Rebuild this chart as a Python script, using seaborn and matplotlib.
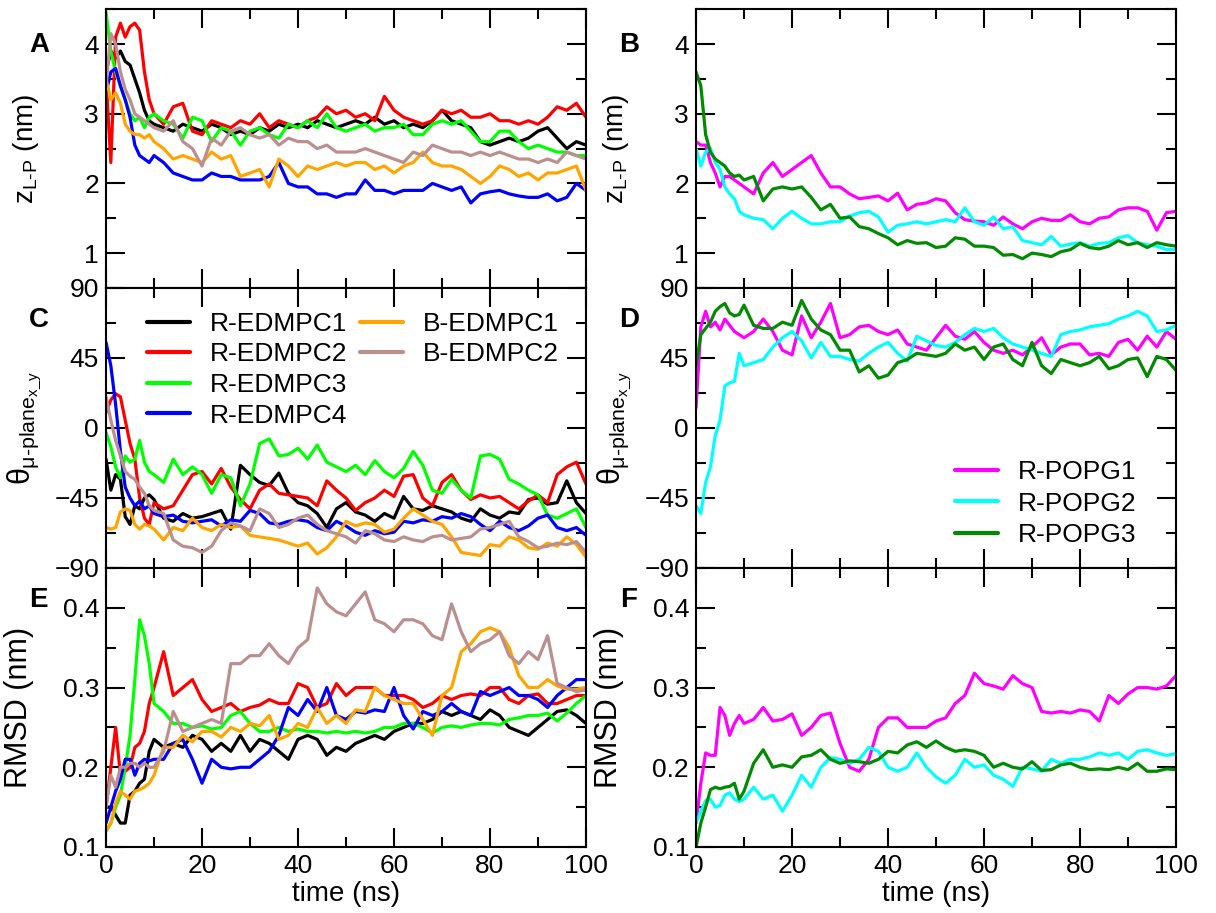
import numpy as np
import pandas as pd
import matplotlib
matplotlib.use("Agg")
import matplotlib.pyplot as plt
import seaborn as sns
from matplotlib.lines import Line2D
from matplotlib.ticker import MultipleLocator

# ---------------- data ----------------
time_ns = [0, 1, 2, 3, 4, 5, 6, 7, 8, 9, 10] + list(range(12, 101, 2))

left_labels = ["R-EDMPC1", "R-EDMPC2", "R-EDMPC3", "R-EDMPC4", "B-EDMPC1", "B-EDMPC2"]
left_colors = ["#000000", "#ff0000", "#00ff00", "#0000ff", "#ffa500", "#bc8f8f"]
right_labels = ["R-POPG1", "R-POPG2", "R-POPG3"]
right_colors = ["#ff00ff", "#00ffff", "#008b00"]

# Panel A: z_L-P (nm)
A_R1 = [3.6, 3.9, 3.8, 3.9, 3.75, 3.7, 3.5, 3.3, 3.05, 2.9, 2.85,
        2.8, 2.75, 2.85, 2.8, 2.75, 2.85, 2.8, 2.7, 2.75, 2.7, 2.8, 2.75, 2.85, 2.8, 2.85,
        2.8, 2.9, 2.85, 2.8, 2.85, 2.9, 2.85, 2.95, 2.85, 2.9, 2.8, 2.85, 2.8, 2.9, 3.05,
        2.9, 2.85, 2.8, 2.6, 2.55, 2.6, 2.65, 2.6, 2.65, 2.75, 2.8, 2.65, 2.5, 2.6, 2.55]
A_R2 = [3.5, 2.3, 4.1, 4.3, 4.1, 4.25, 4.3, 4.2, 3.6, 3.2, 3.0,
        2.85, 3.1, 3.15, 2.75, 2.7, 2.9, 2.85, 2.8, 2.9, 2.85, 3.0, 2.8, 2.9, 2.85, 2.8,
        2.9, 2.95, 3.1, 3.0, 3.05, 2.95, 3.0, 2.9, 3.25, 3.05, 2.95, 2.9, 2.85, 2.9, 3.05,
        3.0, 3.05, 2.95, 2.95, 3.0, 2.9, 2.9, 2.85, 2.9, 2.85, 2.95, 3.1, 3.05, 3.15, 2.95]
A_R3 = [4.45, 3.9, 3.6, 3.4, 3.2, 3.0, 2.9, 2.95, 2.8, 2.95, 3.0,
        2.9, 2.85, 2.65, 2.95, 2.9, 2.6, 2.8, 2.75, 2.55, 2.75, 2.8, 2.7, 2.65, 2.85, 2.8,
        2.9, 2.8, 3.0, 2.8, 2.75, 2.8, 2.85, 2.75, 2.8, 2.8, 2.85, 2.7, 2.7, 2.85, 2.9,
        2.85, 2.9, 2.75, 2.6, 2.6, 2.75, 2.75, 2.6, 2.5, 2.55, 2.5, 2.45, 2.45, 2.4, 2.4]
A_R4 = [3.3, 3.6, 3.65, 3.4, 3.2, 2.95, 2.55, 2.4, 2.35, 2.3, 2.4,
        2.3, 2.15, 2.1, 2.05, 2.05, 2.15, 2.1, 2.1, 2.05, 2.05, 2.05, 2.1, 2.3, 2.0, 1.95,
        1.95, 1.85, 1.85, 1.8, 1.85, 1.85, 2.05, 1.9, 1.9, 1.85, 1.9, 1.9, 1.9, 2.0, 1.95,
        1.9, 1.95, 1.72, 1.85, 1.88, 1.9, 1.85, 1.82, 1.8, 1.8, 1.85, 1.75, 1.8, 2.0, 1.9]
A_B1 = [3.5, 3.2, 3.3, 3.15, 2.85, 2.75, 2.7, 2.7, 2.65, 2.7, 2.6,
        2.5, 2.35, 2.4, 2.35, 2.3, 2.45, 2.35, 2.4, 2.1, 2.15, 2.2, 1.95, 2.35, 2.25, 2.1,
        2.25, 2.2, 2.25, 2.3, 2.25, 2.3, 2.3, 2.2, 2.25, 2.15, 2.25, 2.3, 2.45, 2.3, 2.25,
        2.25, 2.2, 2.1, 2.0, 2.1, 2.25, 2.2, 2.1, 2.15, 2.05, 2.15, 2.15, 2.2, 2.25, 1.9]
A_B2 = [3.4, 4.15, 4.0, 3.6, 3.35, 3.2, 3.0, 2.95, 2.9, 2.85, 2.8,
        2.75, 2.9, 2.6, 2.5, 2.25, 2.65, 2.55, 2.75, 2.8, 2.7, 2.65, 2.7, 2.55, 2.65, 2.6,
        2.6, 2.5, 2.55, 2.45, 2.45, 2.45, 2.5, 2.45, 2.4, 2.35, 2.3, 2.45, 2.4, 2.55, 2.5,
        2.45, 2.45, 2.4, 2.45, 2.4, 2.45, 2.4, 2.35, 2.35, 2.3, 2.35, 2.3, 2.45, 2.4, 2.35]

# Panel C: theta (deg)
C_R1 = [-20, -40, -30, -33, -57, -62, -50, -52, -45, -43, -46,
        -58, -60, -55, -58, -57, -55, -53, -65, -24, -30, -35, -37, -29, -42, -48,
        -50, -55, -64, -52, -48, -54, -56, -60, -55, -58, -44, -52, -53, -50, -52,
        -54, -58, -60, -52, -56, -58, -54, -55, -46, -45, -49, -48, -34, -48, -55]
C_R2 = [10, 18, 22, 20, 5, -10, -20, -45, -58, -62, -48,
        -52, -50, -40, -30, -28, -36, -26, -38, -46, -52, -40, -36, -42, -43, -44,
        -45, -50, -34, -40, -45, -53, -48, -45, -40, -44, -31, -30, -45, -50, -35,
        -30, -40, -46, -43, -45, -44, -48, -52, -47, -43, -48, -30, -25, -22, -36]
C_R3 = [-3, -12, -25, -32, -18, -22, -20, -8, -22, -28, -30,
        -35, -20, -30, -25, -30, -42, -30, -32, -50, -36, -10, -7, -18, -17, -13,
        -20, -11, -22, -25, -28, -24, -30, -21, -28, -32, -26, -15, -24, -40, -42,
        -33, -40, -45, -18, -17, -20, -33, -36, -40, -43, -56, -58, -55, -52, -64]
C_R4 = [55, 40, 15, -15, -38, -45, -50, -47, -52, -50, -55,
        -57, -56, -60, -61, -60, -59, -63, -59, -60, -53, -55, -61, -62, -60, -59,
        -60, -64, -66, -60, -63, -67, -69, -66, -68, -67, -60, -61, -59, -60, -57,
        -58, -55, -57, -62, -66, -60, -64, -66, -63, -58, -56, -64, -66, -64, -69]
C_B1 = [-64, -65, -64, -54, -52, -53, -62, -65, -62, -63, -65,
        -72, -64, -66, -58, -64, -66, -62, -64, -63, -69, -70, -71, -72, -74, -76,
        -74, -81, -77, -70, -60, -63, -61, -62, -67, -65, -58, -52, -56, -60, -62,
        -70, -80, -81, -82, -75, -76, -70, -72, -77, -78, -74, -76, -70, -75, -83]
C_B2 = [20, 5, -8, -18, -28, -31, -33, -38, -42, -50, -53,
        -55, -72, -76, -77, -80, -76, -66, -61, -63, -66, -52, -55, -64, -62, -58,
        -56, -62, -66, -68, -70, -74, -66, -68, -72, -73, -70, -72, -73, -70, -69,
        -72, -71, -70, -65, -64, -62, -60, -70, -73, -77, -76, -74, -75, -73, -80]

# Panel E: RMSD (nm)
E_R1 = [0.15, 0.15, 0.14, 0.13, 0.13, 0.165, 0.17, 0.18, 0.185, 0.22, 0.235,
        0.225, 0.23, 0.225, 0.24, 0.235, 0.22, 0.23, 0.22, 0.24, 0.22, 0.235, 0.23, 0.22, 0.21, 0.235,
        0.24, 0.235, 0.215, 0.225, 0.22, 0.23, 0.235, 0.24, 0.235, 0.245, 0.25, 0.255, 0.255, 0.26, 0.27,
        0.265, 0.27, 0.265, 0.26, 0.272, 0.265, 0.25, 0.245, 0.24, 0.25, 0.26, 0.27, 0.272, 0.265, 0.255]
E_R2 = [0.15, 0.2, 0.25, 0.19, 0.195, 0.2, 0.225, 0.23, 0.245, 0.28, 0.3,
        0.345, 0.29, 0.3, 0.31, 0.285, 0.27, 0.275, 0.28, 0.27, 0.275, 0.278, 0.285, 0.28, 0.28, 0.305,
        0.3, 0.275, 0.28, 0.305, 0.29, 0.3, 0.3, 0.3, 0.29, 0.29, 0.29, 0.285, 0.275, 0.28, 0.29,
        0.285, 0.29, 0.292, 0.29, 0.3, 0.3, 0.285, 0.28, 0.29, 0.292, 0.28, 0.28, 0.285, 0.29, 0.29]
E_R3 = [0.12, 0.13, 0.15, 0.165, 0.2, 0.24, 0.31, 0.385, 0.365, 0.33, 0.28,
        0.27, 0.255, 0.255, 0.25, 0.252, 0.248, 0.25, 0.265, 0.27, 0.255, 0.245, 0.245, 0.25, 0.245, 0.248,
        0.245, 0.245, 0.243, 0.245, 0.243, 0.245, 0.243, 0.245, 0.25, 0.25, 0.255, 0.255, 0.25, 0.243, 0.25,
        0.252, 0.25, 0.253, 0.255, 0.255, 0.253, 0.26, 0.262, 0.265, 0.265, 0.268, 0.258, 0.268, 0.28, 0.29]
E_R4 = [0.13, 0.15, 0.17, 0.185, 0.21, 0.21, 0.19, 0.205, 0.21, 0.208, 0.21,
        0.21, 0.23, 0.235, 0.21, 0.18, 0.21, 0.2, 0.198, 0.2, 0.2, 0.21, 0.22, 0.24, 0.275, 0.265,
        0.285, 0.27, 0.3, 0.265, 0.26, 0.27, 0.268, 0.272, 0.27, 0.3, 0.265, 0.248, 0.27, 0.265, 0.27,
        0.28, 0.27, 0.265, 0.295, 0.29, 0.295, 0.3, 0.29, 0.29, 0.285, 0.275, 0.29, 0.3, 0.31, 0.31]
E_B1 = [0.12, 0.13, 0.155, 0.17, 0.165, 0.16, 0.17, 0.172, 0.175, 0.18, 0.19,
        0.225, 0.225, 0.24, 0.232, 0.245, 0.245, 0.238, 0.25, 0.245, 0.255, 0.252, 0.265, 0.235, 0.24, 0.255,
        0.25, 0.275, 0.255, 0.265, 0.255, 0.272, 0.27, 0.3, 0.29, 0.285, 0.28, 0.28, 0.26, 0.24, 0.29,
        0.3, 0.345, 0.355, 0.37, 0.375, 0.37, 0.35, 0.315, 0.3, 0.3, 0.31, 0.302, 0.298, 0.298, 0.3]
E_B2 = [0.15, 0.19, 0.175, 0.2, 0.2, 0.205, 0.205, 0.2, 0.205, 0.2, 0.2,
        0.22, 0.27, 0.245, 0.25, 0.255, 0.26, 0.255, 0.33, 0.33, 0.34, 0.34, 0.355, 0.34, 0.33, 0.35,
        0.36, 0.425, 0.405, 0.395, 0.39, 0.405, 0.42, 0.385, 0.38, 0.37, 0.385, 0.385, 0.38, 0.365, 0.36,
        0.405, 0.37, 0.345, 0.355, 0.36, 0.37, 0.34, 0.33, 0.345, 0.335, 0.365, 0.305, 0.3, 0.295, 0.297]

# Panel B: z_L-P (nm), POPG
B_P1 = [2.6, 2.55, 2.55, 2.3, 2.15, 1.95, 2.1, 2.1, 2.05, 2.0, 1.95,
        1.85, 2.15, 2.3, 2.1, 2.2, 2.3, 2.4, 2.15, 1.95, 1.95, 1.85, 1.78, 1.8, 1.82, 1.75,
        1.86, 1.62, 1.7, 1.72, 1.78, 1.75, 1.58, 1.48, 1.46, 1.45, 1.4, 1.52, 1.42, 1.35, 1.45,
        1.5, 1.47, 1.47, 1.55, 1.45, 1.42, 1.5, 1.52, 1.62, 1.65, 1.65, 1.6, 1.33, 1.58, 1.6]
B_P2 = [2.5, 2.25, 2.45, 2.5, 2.3, 2.2, 1.95, 1.85, 1.78, 1.6, 1.55,
        1.5, 1.48, 1.35, 1.5, 1.6, 1.5, 1.42, 1.42, 1.45, 1.45, 1.53, 1.58, 1.6, 1.52, 1.3,
        1.4, 1.42, 1.45, 1.42, 1.45, 1.48, 1.45, 1.65, 1.45, 1.4, 1.52, 1.35, 1.38, 1.18, 1.15,
        1.12, 1.24, 1.1, 1.13, 1.15, 1.1, 1.14, 1.15, 1.22, 1.25, 1.15, 1.12, 1.1, 1.05, 1.05]
B_P3 = [3.6, 3.4, 2.7, 2.45, 2.35, 2.3, 2.25, 2.15, 2.1, 2.12, 2.05,
        2.1, 1.75, 1.92, 1.95, 1.92, 1.95, 1.8, 1.62, 1.7, 1.5, 1.52, 1.38, 1.35, 1.28, 1.22,
        1.12, 1.18, 1.14, 1.15, 1.08, 1.1, 1.22, 1.2, 1.1, 1.1, 1.08, 0.97, 0.98, 0.92, 1.0,
        0.98, 0.95, 1.02, 1.05, 1.14, 1.08, 1.06, 1.1, 1.18, 1.12, 1.15, 1.08, 1.15, 1.12, 1.1]

# Panel D: theta (deg), POPG
D_P1 = [13, 65, 75, 65, 68, 63, 70, 66, 62, 60, 58,
        62, 70, 62, 50, 47, 72, 58, 68, 80, 58, 60, 65, 66, 62, 60,
        63, 54, 52, 50, 58, 66, 59, 57, 62, 55, 50, 48, 50, 47, 52,
        58, 47, 52, 54, 54, 47, 48, 46, 55, 57, 50, 59, 52, 62, 57]
D_P2 = [-50, -55, -35, -25, -5, 5, 27, 29, 30, 48, 40,
        42, 44, 52, 58, 62, 56, 45, 55, 46, 46, 44, 43, 48, 52, 55,
        48, 43, 59, 56, 53, 52, 55, 60, 64, 62, 64, 58, 54, 52, 50,
        48, 46, 60, 62, 63, 65, 66, 67, 70, 72, 75, 72, 62, 63, 66]
D_P3 = [40, 60, 64, 68, 75, 78, 80, 74, 72, 73, 79,
        66, 64, 64, 68, 66, 82, 70, 63, 60, 50, 50, 36, 40, 32, 34,
        42, 44, 48, 47, 46, 48, 54, 50, 52, 44, 52, 54, 44, 40, 55,
        40, 35, 44, 42, 40, 42, 46, 38, 40, 44, 45, 33, 46, 44, 37]

# Panel F: RMSD (nm), POPG
F_P1 = [0.13, 0.18, 0.218, 0.215, 0.215, 0.275, 0.265, 0.24, 0.255, 0.265, 0.255,
        0.26, 0.275, 0.258, 0.26, 0.267, 0.24, 0.25, 0.265, 0.268, 0.23, 0.2, 0.195, 0.21, 0.25, 0.262,
        0.262, 0.25, 0.25, 0.25, 0.258, 0.262, 0.28, 0.29, 0.318, 0.305, 0.302, 0.298, 0.315, 0.305, 0.3,
        0.27, 0.268, 0.27, 0.268, 0.272, 0.27, 0.258, 0.29, 0.28, 0.292, 0.3, 0.3, 0.298, 0.302, 0.315]
F_P2 = [0.13, 0.145, 0.158, 0.16, 0.15, 0.152, 0.165, 0.168, 0.16, 0.157, 0.16,
        0.175, 0.16, 0.165, 0.145, 0.165, 0.19, 0.175, 0.2, 0.212, 0.21, 0.205, 0.21, 0.225, 0.22, 0.2,
        0.195, 0.2, 0.218, 0.2, 0.188, 0.18, 0.19, 0.21, 0.2, 0.203, 0.19, 0.185, 0.176, 0.2, 0.198,
        0.195, 0.21, 0.205, 0.21, 0.21, 0.213, 0.218, 0.215, 0.218, 0.21, 0.22, 0.222, 0.218, 0.215, 0.217]
F_P3 = [0.1, 0.13, 0.15, 0.172, 0.175, 0.173, 0.175, 0.176, 0.18, 0.16, 0.17,
        0.205, 0.222, 0.2, 0.203, 0.2, 0.213, 0.215, 0.222, 0.21, 0.205, 0.208, 0.207, 0.205, 0.21, 0.22,
        0.218, 0.228, 0.232, 0.225, 0.233, 0.225, 0.22, 0.222, 0.22, 0.215, 0.2, 0.205, 0.2, 0.198, 0.207,
        0.196, 0.197, 0.203, 0.205, 0.2, 0.197, 0.198, 0.197, 0.2, 0.197, 0.205, 0.195, 0.195, 0.198, 0.197]

# ---------------- style ----------------
sns.set_style("ticks")
plt.rcParams["font.family"] = ["Liberation Sans", "DejaVu Sans"]
plt.rcParams["mathtext.fontset"] = "custom"
plt.rcParams["mathtext.rm"] = "Liberation Sans"
plt.rcParams["mathtext.it"] = "Liberation Sans"
plt.rcParams["mathtext.sf"] = "Liberation Sans"
plt.rcParams["axes.linewidth"] = 1.5
plt.rcParams["axes.edgecolor"] = "black"
plt.rcParams["xtick.color"] = "black"
plt.rcParams["ytick.color"] = "black"
plt.rcParams["text.color"] = "black"
plt.rcParams["axes.labelcolor"] = "black"

fig = plt.figure(figsize=(12.16, 9.13), dpi=100)

colx = [0.0872, 0.5724]
colw = 0.3947
rows = [(0.6846, 0.3053), (0.3779, 0.3067), (0.0723, 0.3056)]


def frame(series, labels):
    parts = []
    for name, vals in zip(labels, series):
        parts.append(pd.DataFrame({"time": time_ns, "value": vals, "series": name}))
    return pd.concat(parts, ignore_index=True)


def style(ax, ylim, major, minor, show_x):
    ax.set_xlim(0, 100)
    ax.set_ylim(*ylim)
    ax.xaxis.set_major_locator(MultipleLocator(20))
    ax.xaxis.set_minor_locator(MultipleLocator(10))
    ax.yaxis.set_major_locator(MultipleLocator(major))
    ax.yaxis.set_minor_locator(MultipleLocator(minor))
    ax.tick_params(which="both", direction="in", top=True, right=True, width=1.5,
                   labelsize=19, colors="black")
    ax.tick_params(which="major", length=14, pad=5)
    ax.tick_params(which="minor", length=7)
    if not show_x:
        ax.tick_params(labelbottom=False)
    for s in ax.spines.values():
        s.set_linewidth(1.5)
        s.set_color("black")
        s.set_visible(True)
    ax.set_xlabel("")
    ax.set_ylabel("")


panels = [
    ("A", 0, 0, [A_R1, A_R2, A_R3, A_R4, A_B1, A_B2], left_labels, left_colors),
    ("C", 0, 1, [C_R1, C_R2, C_R3, C_R4, C_B1, C_B2], left_labels, left_colors),
    ("E", 0, 2, [E_R1, E_R2, E_R3, E_R4, E_B1, E_B2], left_labels, left_colors),
    ("B", 1, 0, [B_P1, B_P2, B_P3], right_labels, right_colors),
    ("D", 1, 1, [D_P1, D_P2, D_P3], right_labels, right_colors),
    ("F", 1, 2, [F_P1, F_P2, F_P3], right_labels, right_colors),
]

ylims = [(0.5, 4.5), (-90, 90), (0.1, 0.45)]
majors = [1, 45, 0.1]
minors = [0.5, 22.5, 0.05]
ylabels = [r"$\mathrm{z}_{\mathrm{L\text{-}P}}$ (nm)",
           r"$\theta_{\mu\mathrm{\text{-}plane}_{\mathrm{x\_y}}}$",
           "RMSD (nm)"]
ylabel_sizes = [20, 22, 22]
ylabel_x = [-0.135, -0.13, -0.15]

for letter, col, row, series, labels, colors in panels:
    ax = fig.add_axes([colx[col], rows[row][0], colw, rows[row][1]])
    df = frame(series, labels)
    want_legend = letter in ("C", "D")
    sns.lineplot(data=df, x="time", y="value", hue="series", hue_order=labels,
                 palette=colors, linewidth=2.3, estimator=None, sort=False,
                 ax=ax, legend=want_legend)
    style(ax, ylims[row], majors[row], minors[row], row == 2)
    ax.set_ylabel(ylabels[row], fontsize=ylabel_sizes[row])
    ax.yaxis.set_label_coords(ylabel_x[row], 0.5)
    if row == 2:
        ax.set_xlabel("time (ns)", fontsize=20, labelpad=2)
    ax.text(-0.14, 0.885 if row else 0.87, letter, transform=ax.transAxes,
            fontsize=20, fontweight="bold", ha="center", va="center")
    if want_legend:
        old = ax.get_legend()
        handles = list(old.legend_handles)
        texts = [t.get_text() for t in old.get_texts()]
        old.remove()
        for h in handles:
            h.set_linewidth(3)
        if letter == "C":
            blank = Line2D([], [], color="none")
            handles = handles + [blank, blank]
            texts = texts + ["", ""]
            ax.legend(handles, texts, ncol=2, loc="upper left",
                      bbox_to_anchor=(0.085, 0.915), frameon=False, fontsize=19,
                      handlelength=1.65, handletextpad=0.75, labelspacing=0.25,
                      columnspacing=0.45, borderaxespad=0, borderpad=0)
        else:
            ax.legend(handles, texts, loc="lower right",
                      bbox_to_anchor=(0.918, 0.075), frameon=False, fontsize=19,
                      handlelength=1.65, handletextpad=0.75, labelspacing=0.28,
                      borderaxespad=0, borderpad=0)

fig.savefig("out.png", dpi=100)
